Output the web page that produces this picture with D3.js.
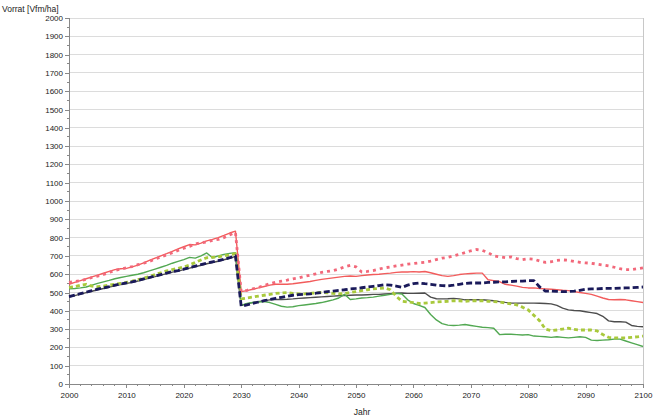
<!DOCTYPE html>
<html>
<head>
<meta charset="utf-8">
<script src="https://cdn.jsdelivr.net/npm/d3@7"></script>
<style>
  html, body { margin: 0; padding: 0; background: #fff; }
  svg { display: block; font-family: "Liberation Sans", Arial, sans-serif; }
</style>
</head>
<body>
<svg id="chart" width="655" height="420"></svg>
<script>
// Years 2000..2100, one value per year
const years = d3.range(2000, 2101);

const redSolid = [
  545,555,565,575,585,595,605,615,625,630,632,640,650,662,675,688,700,712,725,738,
  750,762,760,770,782,790,800,812,825,835,
  505,510,518,525,533,540,545,545,545,548,552,556,560,566,572,576,580,584,588,590,
  588,592,596,598,600,603,606,610,612,612,614,612,615,608,600,592,588,592,598,602,
  604,606,606,570,565,560,545,540,535,528,525,525,522,520,518,515,512,510,505,500,
  495,490,480,470,462,460,462,460,455,450,445
];
const redDotted = [
  555,560,565,572,582,590,598,610,620,628,635,642,652,660,670,682,695,705,718,730,
  742,752,765,772,776,785,790,800,815,828,
  505,512,520,528,538,548,556,562,568,575,580,588,595,602,610,615,620,628,640,648,
  640,612,615,620,628,635,640,645,650,655,658,662,665,672,680,688,692,700,708,718,
  728,735,730,718,700,695,690,695,685,680,685,682,672,665,668,675,678,676,670,665,
  662,660,655,650,645,638,630,625,625,630,635
];
const greenSolid = [
  520,522,525,530,540,550,558,566,575,582,588,594,600,608,618,628,638,648,660,670,
  680,692,688,700,716,690,700,708,714,718,
  430,440,445,448,450,445,435,425,420,422,428,432,436,440,445,452,460,470,490,462,
  465,470,472,475,480,485,490,495,492,460,440,430,418,380,350,330,322,320,322,325,
  320,315,310,308,305,270,272,272,270,268,270,262,260,258,255,258,255,252,255,258,
  255,240,238,240,242,245,245,235,225,215,205
];
const yellowDotted = [
  528,532,540,545,535,532,535,540,545,550,555,562,570,578,588,598,608,618,625,632,
  640,650,665,678,690,692,695,700,705,712,
  465,470,475,480,485,490,495,498,500,495,492,492,495,498,500,498,495,492,495,500,
  505,510,515,520,522,525,515,480,452,448,445,440,442,445,448,450,452,455,455,452,
  455,455,455,452,450,448,442,438,432,420,405,375,345,300,292,295,300,305,298,295,
  295,295,290,270,255,252,252,252,255,258,262
];
const navyDashed = [
  478,486,494,502,510,518,525,532,540,546,552,558,566,574,582,590,598,606,614,620,
  628,636,644,652,660,667,674,682,690,700,
  425,432,440,448,455,462,468,474,480,485,488,490,493,496,500,505,508,512,515,520,
  522,526,530,534,538,542,540,535,528,540,548,552,548,545,540,538,536,540,545,550,
  552,552,552,555,556,558,558,560,562,562,565,565,530,508,508,506,505,505,508,512,
  518,520,520,522,522,522,524,525,526,528,530
];
const greySolid = [
  475,483,491,499,507,515,522,529,537,543,549,555,563,571,579,587,595,603,611,617,
  625,633,641,649,657,664,671,679,687,697,
  430,438,445,450,455,460,462,462,463,465,468,470,472,474,476,478,480,482,484,485,
  486,486,488,490,490,492,494,496,497,495,495,496,497,475,466,465,466,468,465,460,
  460,460,460,458,455,450,446,443,442,442,442,442,441,440,438,430,415,405,402,400,
  395,390,385,370,345,340,340,338,320,315,313
];

const yTicks = d3.range(0, 2001, 100);
const xTicks = d3.range(2000, 2101, 10);

const series = [
  { name: "grau",      values: greySolid,    color: "#4d4d4d", width: 1.4, dash: null },
  { name: "gruen",     values: greenSolid,   color: "#52a852", width: 1.4, dash: null },
  { name: "rot",       values: redSolid,     color: "#f25c5c", width: 1.4, dash: null },
  { name: "gelbgruen", values: yellowDotted, color: "#a9c93c", width: 2.8, dash: "4,3" },
  { name: "rotPunkt",  values: redDotted,    color: "#f2687a", width: 2.8, dash: "3,4" },
  { name: "navy",      values: navyDashed,   color: "#1a1a5a", width: 2.8, dash: "6,3" }
];

const svg = d3.select("#chart");
const plotLeft = 69, plotRight = 643, plotTop = 18, plotBottom = 384;

const x = d3.scaleLinear().domain([2000, 2100]).range([plotLeft, plotRight]);
const y = d3.scaleLinear().domain([0, 2000]).range([plotBottom, plotTop]);

// horizontal gridlines
svg.append("g")
  .selectAll("line")
  .data(yTicks)
  .join("line")
  .attr("x1", plotLeft).attr("x2", plotRight)
  .attr("y1", d => y(d)).attr("y2", d => y(d))
  .attr("stroke", "#dcdcdc").attr("stroke-width", 1)
  .attr("shape-rendering", "crispEdges");

// right border
svg.append("line")
  .attr("x1", plotRight).attr("x2", plotRight)
  .attr("y1", plotTop).attr("y2", plotBottom)
  .attr("stroke", "#c8c8c8").attr("shape-rendering", "crispEdges");

// y axis: major ticks with labels, minor ticks at 50
const yAxis = svg.append("g").attr("transform", `translate(${plotLeft},0)`)
  .call(d3.axisLeft(y).tickValues(yTicks).tickSize(4).tickPadding(2).tickFormat(d3.format("d")));
yAxis.append("g").selectAll("line")
  .data(d3.range(50, 2000, 100))
  .join("line")
  .attr("x1", -2).attr("x2", 0)
  .attr("y1", d => y(d)).attr("y2", d => y(d))
  .attr("stroke", "#888").attr("shape-rendering", "crispEdges");

// x axis: major ticks every 10 years, minor every 2
const xAxis = svg.append("g").attr("transform", `translate(0,${plotBottom})`)
  .call(d3.axisBottom(x).tickValues(xTicks).tickSize(4).tickPadding(4).tickFormat(d3.format("d")));
xAxis.append("g").selectAll("line")
  .data(d3.range(2000, 2101, 2).filter(v => v % 10 !== 0))
  .join("line")
  .attr("x1", d => x(d)).attr("x2", d => x(d))
  .attr("y1", 0).attr("y2", 2)
  .attr("stroke", "#888").attr("shape-rendering", "crispEdges");

[yAxis, xAxis].forEach(a => {
  a.select(".domain").attr("stroke", "#888").attr("shape-rendering", "crispEdges");
  a.selectAll(".tick line").attr("stroke", "#888").attr("shape-rendering", "crispEdges");
  a.selectAll(".tick text").attr("fill", "#222").attr("font-size", 8)
    .attr("font-family", "Liberation Sans, Arial, sans-serif");
});

// data lines
const line = d3.line()
  .x((d, i) => x(years[i]))
  .y(d => y(d));

svg.append("g")
  .selectAll("path")
  .data(series)
  .join("path")
  .attr("d", s => line(s.values))
  .attr("fill", "none")
  .attr("stroke", s => s.color)
  .attr("stroke-width", s => s.width)
  .attr("stroke-dasharray", s => s.dash)
  .attr("stroke-linejoin", "round");

// axis titles
svg.append("text")
  .attr("x", 2).attr("y", 12)
  .attr("font-size", 8.5).attr("fill", "#222")
  .text("Vorrat [Vfm/ha]");

svg.append("text")
  .attr("x", 362).attr("y", 415)
  .attr("text-anchor", "middle")
  .attr("font-size", 8.5).attr("fill", "#222")
  .text("Jahr");
</script>
</body>
</html>
